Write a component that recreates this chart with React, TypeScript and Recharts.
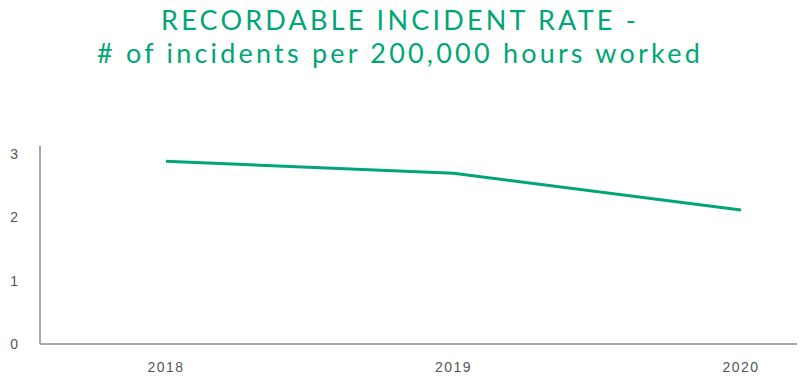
import { LineChart, Line, XAxis, YAxis } from 'recharts'

const years = ['2018', '2019', '2020']
const incidentRate = [2.88, 2.69, 2.11]
const yTicks = [0, 1, 2, 3]

const data = years.map((year, i) => ({ year, rate: incidentRate[i] }))

const GREEN = '#00a676'

export default function App() {
  return (
    <div style={{ position: 'absolute', top: 0, left: 0, width: 800, height: 390, background: '#fff' }}>
      {/* Title */}
      <div
        style={{
          position: 'absolute',
          top: 3,
          left: 0,
          width: 800,
          textAlign: 'center',
          fontFamily: 'Lato',
          fontSize: 27,
          lineHeight: '33px',
          letterSpacing: 3.2,
          color: GREEN,
        }}
      >
        <div>RECORDABLE INCIDENT RATE -</div>
        <div># of incidents per 200,000 hours worked</div>
      </div>

      <LineChart width={800} height={390} data={data} margin={{ top: 146, right: 3, left: 0, bottom: 0 }}>
        <XAxis
          dataKey="year"
          height={46}
          padding={{ left: 126, right: 56 }}
          axisLine={{ stroke: '#aaaaaa', strokeWidth: 2 }}
          tickLine={false}
          tickMargin={12}
          tick={{ fill: '#555', fontSize: 14, fontFamily: 'Liberation Sans', letterSpacing: 1.5 }}
        />
        <YAxis
          width={40}
          domain={[0, 3.12]}
          ticks={yTicks}
          axisLine={{ stroke: '#aaaaaa', strokeWidth: 2 }}
          tickLine={false}
          tickMargin={16}
          tick={{ fill: '#555', fontSize: 14, fontFamily: 'Liberation Sans' }}
        />
        <Line
          type="linear"
          dataKey="rate"
          stroke={GREEN}
          strokeWidth={3}
          dot={false}
          isAnimationActive={false}
        />
      </LineChart>
    </div>
  )
}
